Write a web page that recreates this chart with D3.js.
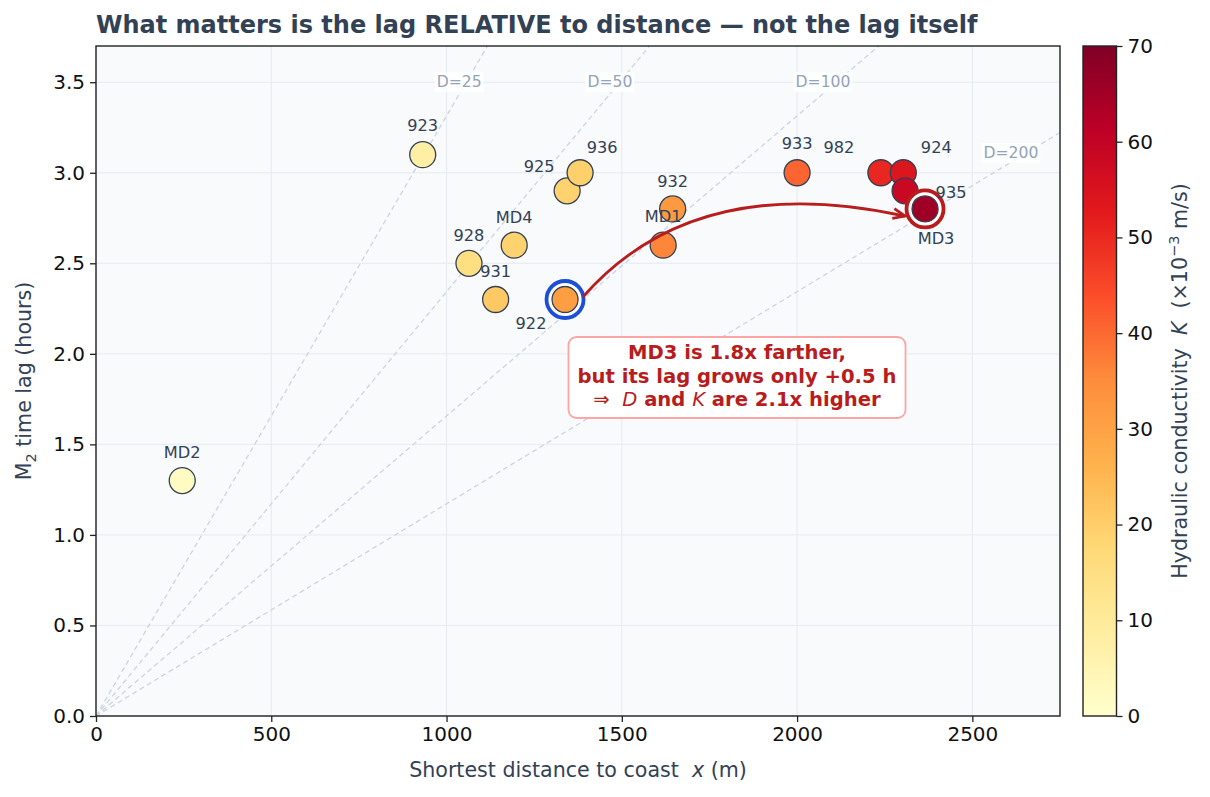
<!DOCTYPE html>
<html><head><meta charset="utf-8">
<script src="https://cdn.jsdelivr.net/npm/d3@7"></script>
<style>
body{margin:0;background:#fff;}
svg{display:block;font-family:"DejaVu Sans",sans-serif;}
text{white-space:pre;}
</style>
</head><body>
<svg id="chart" width="1210" height="797"></svg>
<script>
// ---------------- data ----------------
const wellNames    = ["MD2","923","928","931","MD4","922","925","936","MD1","932","933","982","924","935","MD3"];
const distanceM    = [246, 932, 1064, 1140, 1193, 1338, 1344, 1381, 1618, 1645, 2000, 2239, 2303, 2308, 2365];
const lagHours     = [1.3, 3.1, 2.5, 2.3, 2.6, 2.3, 2.9, 3.0, 2.6, 2.8, 3.0, 3.0, 3.0, 2.9, 2.8];
const conductivity = [2, 8, 15, 21, 19, 31, 19, 19.5, 36, 32, 40.5, 50.5, 54, 58.5, 65.5];
const diffusivities = [25, 50, 100, 200];
const diffLabelPos  = [[1036, 3.5], [1466, 3.5], [2074, 3.5], [2610, 3.11]];
const xTicks  = [0, 500, 1000, 1500, 2000, 2500];
const yTicks  = [0, 0.5, 1.0, 1.5, 2.0, 2.5, 3.0, 3.5];
const cbTicks = [0, 10, 20, 30, 40, 50, 60, 70];
const ylorrd  = ["#ffffcc","#ffeda0","#fed976","#feb24c","#fd8d3c","#fc4e2a","#e31a1c","#bd0026","#800026"];
// label offsets (px) relative to the marker centre
const labelOffset = {
  "MD2":[0,-28],"923":[0,-29],"928":[0,-28],"931":[0,-28],"MD4":[0,-28],
  "922":[-34,24],"925":[-28,-24],"936":[22,-25],"MD1":[0,-29],"932":[0,-27],
  "933":[0,-29],"982":[-42,-25],"924":[33,-25],"935":[46,2],"MD3":[11,30]
};
const highlightBlue = "922", highlightRed = "MD3";
const arrowPts = {from:[1389, 2.314], ctrl:[1706, 3.015], to:[2308, 2.761]};
const tidalPeriodH = 12.42;

// ---------------- layout ----------------
const svg = d3.select("#chart");
const L = 96, T = 46, W = 964, H = 670;
const x = d3.scaleLinear().domain([0, 2750]).range([L, L + W]);
const y = d3.scaleLinear().domain([0, 3.7]).range([T + H, T]);
const kDomain = [0, 70];
const color = d3.scaleLinear()
  .domain(d3.range(ylorrd.length).map(i => kDomain[0] + i * (kDomain[1] - kDomain[0]) / (ylorrd.length - 1)))
  .range(ylorrd).interpolate(d3.interpolateRgb).clamp(true);

const defs = svg.append("defs");
defs.append("clipPath").attr("id", "plotclip")
  .append("rect").attr("x", L).attr("y", T).attr("width", W).attr("height", H);

// plot background
svg.append("rect").attr("x", L).attr("y", T).attr("width", W).attr("height", H).attr("fill", "#f8fafc");

// grid
const grid = svg.append("g").attr("stroke", "#e2e8f0").attr("stroke-width", 1).attr("opacity", 0.8);
xTicks.forEach(t => grid.append("line").attr("x1", x(t)).attr("x2", x(t)).attr("y1", T).attr("y2", T + H));
yTicks.forEach(t => grid.append("line").attr("x1", L).attr("x2", L + W).attr("y1", y(t)).attr("y2", y(t)));

// reference lines (diffusive lag model)
const plot = svg.append("g").attr("clip-path", "url(#plotclip)");
const Ts = tidalPeriodH * 3600;
const slope = D => Math.sqrt(Ts / (4 * Math.PI * D)) / 3600;
diffusivities.forEach(D => {
  plot.append("line")
    .attr("x1", x(0)).attr("y1", y(0))
    .attr("x2", x(2750)).attr("y2", y(2750 * slope(D)))
    .attr("stroke", "#cbd5e1").attr("stroke-width", 1.3)
    .attr("stroke-dasharray", "5,3.5");
});
diffusivities.forEach((D, i) => {
  const g = plot.append("g");
  const t = g.append("text").attr("x", x(diffLabelPos[i][0])).attr("y", y(diffLabelPos[i][1]))
    .attr("text-anchor", "middle").attr("dominant-baseline", "central")
    .attr("font-size", 15.6).attr("fill", "#94a3b8").text("D=" + D);
  const bb = t.node().getBBox();
  g.insert("rect", "text").attr("x", bb.x - 2).attr("y", bb.y - 1).attr("width", bb.width + 4)
    .attr("height", bb.height + 2).attr("fill", "#fff").attr("opacity", 0.85);
});

// points
const pts = wellNames.map((n, i) => ({name: n, x: distanceM[i], y: lagHours[i], k: conductivity[i]}));
plot.selectAll("circle.pt").data(pts).enter().append("circle").attr("class", "pt")
  .attr("cx", d => x(d.x)).attr("cy", d => y(d.y)).attr("r", 13)
  .attr("fill", d => color(d.k)).attr("stroke", "#334155").attr("stroke-width", 1.3);

// highlight rings
[[highlightBlue, "#1d4ed8"], [highlightRed, "#b91c1c"]].forEach(([n, c]) => {
  const d = pts.find(p => p.name === n);
  plot.append("circle").attr("cx", x(d.x)).attr("cy", y(d.y)).attr("r", 15.5)
    .attr("fill", "none").attr("stroke", "#fff").attr("stroke-width", 3);
  plot.append("circle").attr("cx", x(d.x)).attr("cy", y(d.y)).attr("r", 18.5)
    .attr("fill", "none").attr("stroke", c).attr("stroke-width", 3.8);
});

// curved arrow
const P0 = [x(arrowPts.from[0]), y(arrowPts.from[1])];
const C  = [x(arrowPts.ctrl[0]), y(arrowPts.ctrl[1])];
const P2 = [x(arrowPts.to[0]), y(arrowPts.to[1])];
const ap = d3.path(); ap.moveTo(P0[0], P0[1]); ap.quadraticCurveTo(C[0], C[1], P2[0], P2[1]);
svg.append("path").attr("d", ap.toString()).attr("fill", "none")
  .attr("stroke", "#b91c1c").attr("stroke-width", 2.8);
{
  const dx = P2[0] - C[0], dy = P2[1] - C[1], len = Math.hypot(dx, dy);
  const ux = dx / len, uy = dy / len, hl = 12, hw = 5;
  const bx = P2[0] - ux * hl, by = P2[1] - uy * hl;
  const hp = d3.path();
  hp.moveTo(bx - uy * hw, by + ux * hw); hp.lineTo(P2[0], P2[1]); hp.lineTo(bx + uy * hw, by - ux * hw);
  svg.append("path").attr("d", hp.toString()).attr("fill", "none").attr("stroke", "#b91c1c")
    .attr("stroke-width", 2.8).attr("stroke-linejoin", "miter").attr("stroke-linecap", "butt");
}

// point labels
svg.append("g").selectAll("text").data(pts).enter().append("text")
  .attr("x", d => x(d.x) + labelOffset[d.name][0])
  .attr("y", d => y(d.y) + labelOffset[d.name][1])
  .attr("text-anchor", "middle").attr("dominant-baseline", "central")
  .attr("font-size", 16.2).attr("fill", "#334155").text(d => d.name);

// annotation box
const box = svg.append("g");
box.append("rect").attr("x", 568.5).attr("y", 337).attr("width", 337).attr("height", 81).attr("rx", 8)
  .attr("fill", "#fff").attr("stroke", "#fca5a5").attr("stroke-width", 1.8);
const bt = box.append("text").attr("text-anchor", "middle").attr("fill", "#b91c1c")
  .attr("font-size", 19.6).attr("font-weight", "bold");
bt.append("tspan").attr("x", 737).attr("y", 359).text("MD3 is 1.8x farther,");
bt.append("tspan").attr("x", 737).attr("y", 382.5).text("but its lag grows only +0.5 h");
const l3 = bt.append("tspan").attr("x", 737).attr("y", 406);
l3.append("tspan").attr("font-weight", "normal").text("\u21d2  ");
l3.append("tspan").attr("font-weight", "normal").attr("font-style", "italic").text("D");
l3.append("tspan").text(" and ");
l3.append("tspan").attr("font-weight", "normal").attr("font-style", "italic").text("K");
l3.append("tspan").text(" are 2.1x higher");

// axes
const xAxis = d3.axisBottom(x).tickValues(xTicks).tickSize(6).tickPadding(5).tickFormat(d3.format("d"));
const yAxis = d3.axisLeft(y).tickValues(yTicks).tickSize(6).tickPadding(5).tickFormat(d3.format(".1f"));
const gx = svg.append("g").attr("transform", `translate(0,${T + H})`).call(xAxis);
const gy = svg.append("g").attr("transform", `translate(${L},0)`).call(yAxis);
[gx, gy].forEach(g => {
  g.select(".domain").remove();
  g.selectAll(".tick line").attr("stroke", "#222").attr("stroke-width", 1.3);
  g.selectAll(".tick text").attr("font-size", 20).attr("fill", "#111").attr("font-family", "DejaVu Sans");
});
svg.append("rect").attr("x", L).attr("y", T).attr("width", W).attr("height", H)
  .attr("fill", "none").attr("stroke", "#222").attr("stroke-width", 1.4);

// axis labels
const xl = svg.append("text").attr("x", L + W / 2).attr("y", 777).attr("text-anchor", "middle")
  .attr("font-size", 20.6).attr("fill", "#334155");
xl.append("tspan").text("Shortest distance to coast  ");
xl.append("tspan").attr("font-style", "italic").text("x");
xl.append("tspan").text(" (m)");

const yl = svg.append("text").attr("transform", `translate(31,${T + H / 2}) rotate(-90)`)
  .attr("text-anchor", "middle").attr("font-size", 20.6).attr("fill", "#334155");
yl.append("tspan").text("M");
yl.append("tspan").attr("font-size", 14.5).attr("dy", 5).text("2");
yl.append("tspan").attr("dy", -5).text(" time lag (hours)");

// title
svg.append("text").attr("x", L).attr("y", 33).attr("font-size", 24).attr("font-weight", "bold")
  .attr("fill", "#334155").text("What matters is the lag RELATIVE to distance \u2014 not the lag itself");

// colorbar
const cbX = 1083, cbW = 33.5;
const cy = d3.scaleLinear().domain(kDomain).range([T + H, T]);
const grad = defs.append("linearGradient").attr("id", "cbgrad").attr("x1", 0).attr("y1", 1).attr("x2", 0).attr("y2", 0);
ylorrd.forEach((c, i) => grad.append("stop").attr("offset", i / (ylorrd.length - 1)).attr("stop-color", c));
svg.append("rect").attr("x", cbX).attr("y", T).attr("width", cbW).attr("height", H)
  .attr("fill", "url(#cbgrad)").attr("stroke", "#222").attr("stroke-width", 1.4);
const cbAxis = d3.axisRight(cy).tickValues(cbTicks).tickSize(6).tickPadding(5).tickFormat(d3.format("d"));
const gcb = svg.append("g").attr("transform", `translate(${cbX + cbW},0)`).call(cbAxis);
gcb.select(".domain").remove();
gcb.selectAll(".tick line").attr("stroke", "#222").attr("stroke-width", 1.3);
gcb.selectAll(".tick text").attr("font-size", 20).attr("fill", "#111").attr("font-family", "DejaVu Sans");

const cl = svg.append("text").attr("transform", `translate(1187,${T + H / 2}) rotate(-90)`)
  .attr("text-anchor", "middle").attr("font-size", 20.6).attr("fill", "#334155");
cl.append("tspan").text("Hydraulic conductivity  ");
cl.append("tspan").attr("font-style", "italic").text("K");
cl.append("tspan").text("  (\u00d710");
cl.append("tspan").attr("font-size", 14.5).attr("dy", -8).text("\u22123");
cl.append("tspan").attr("dy", 8).text(" m/s)");
</script>
</body></html>
